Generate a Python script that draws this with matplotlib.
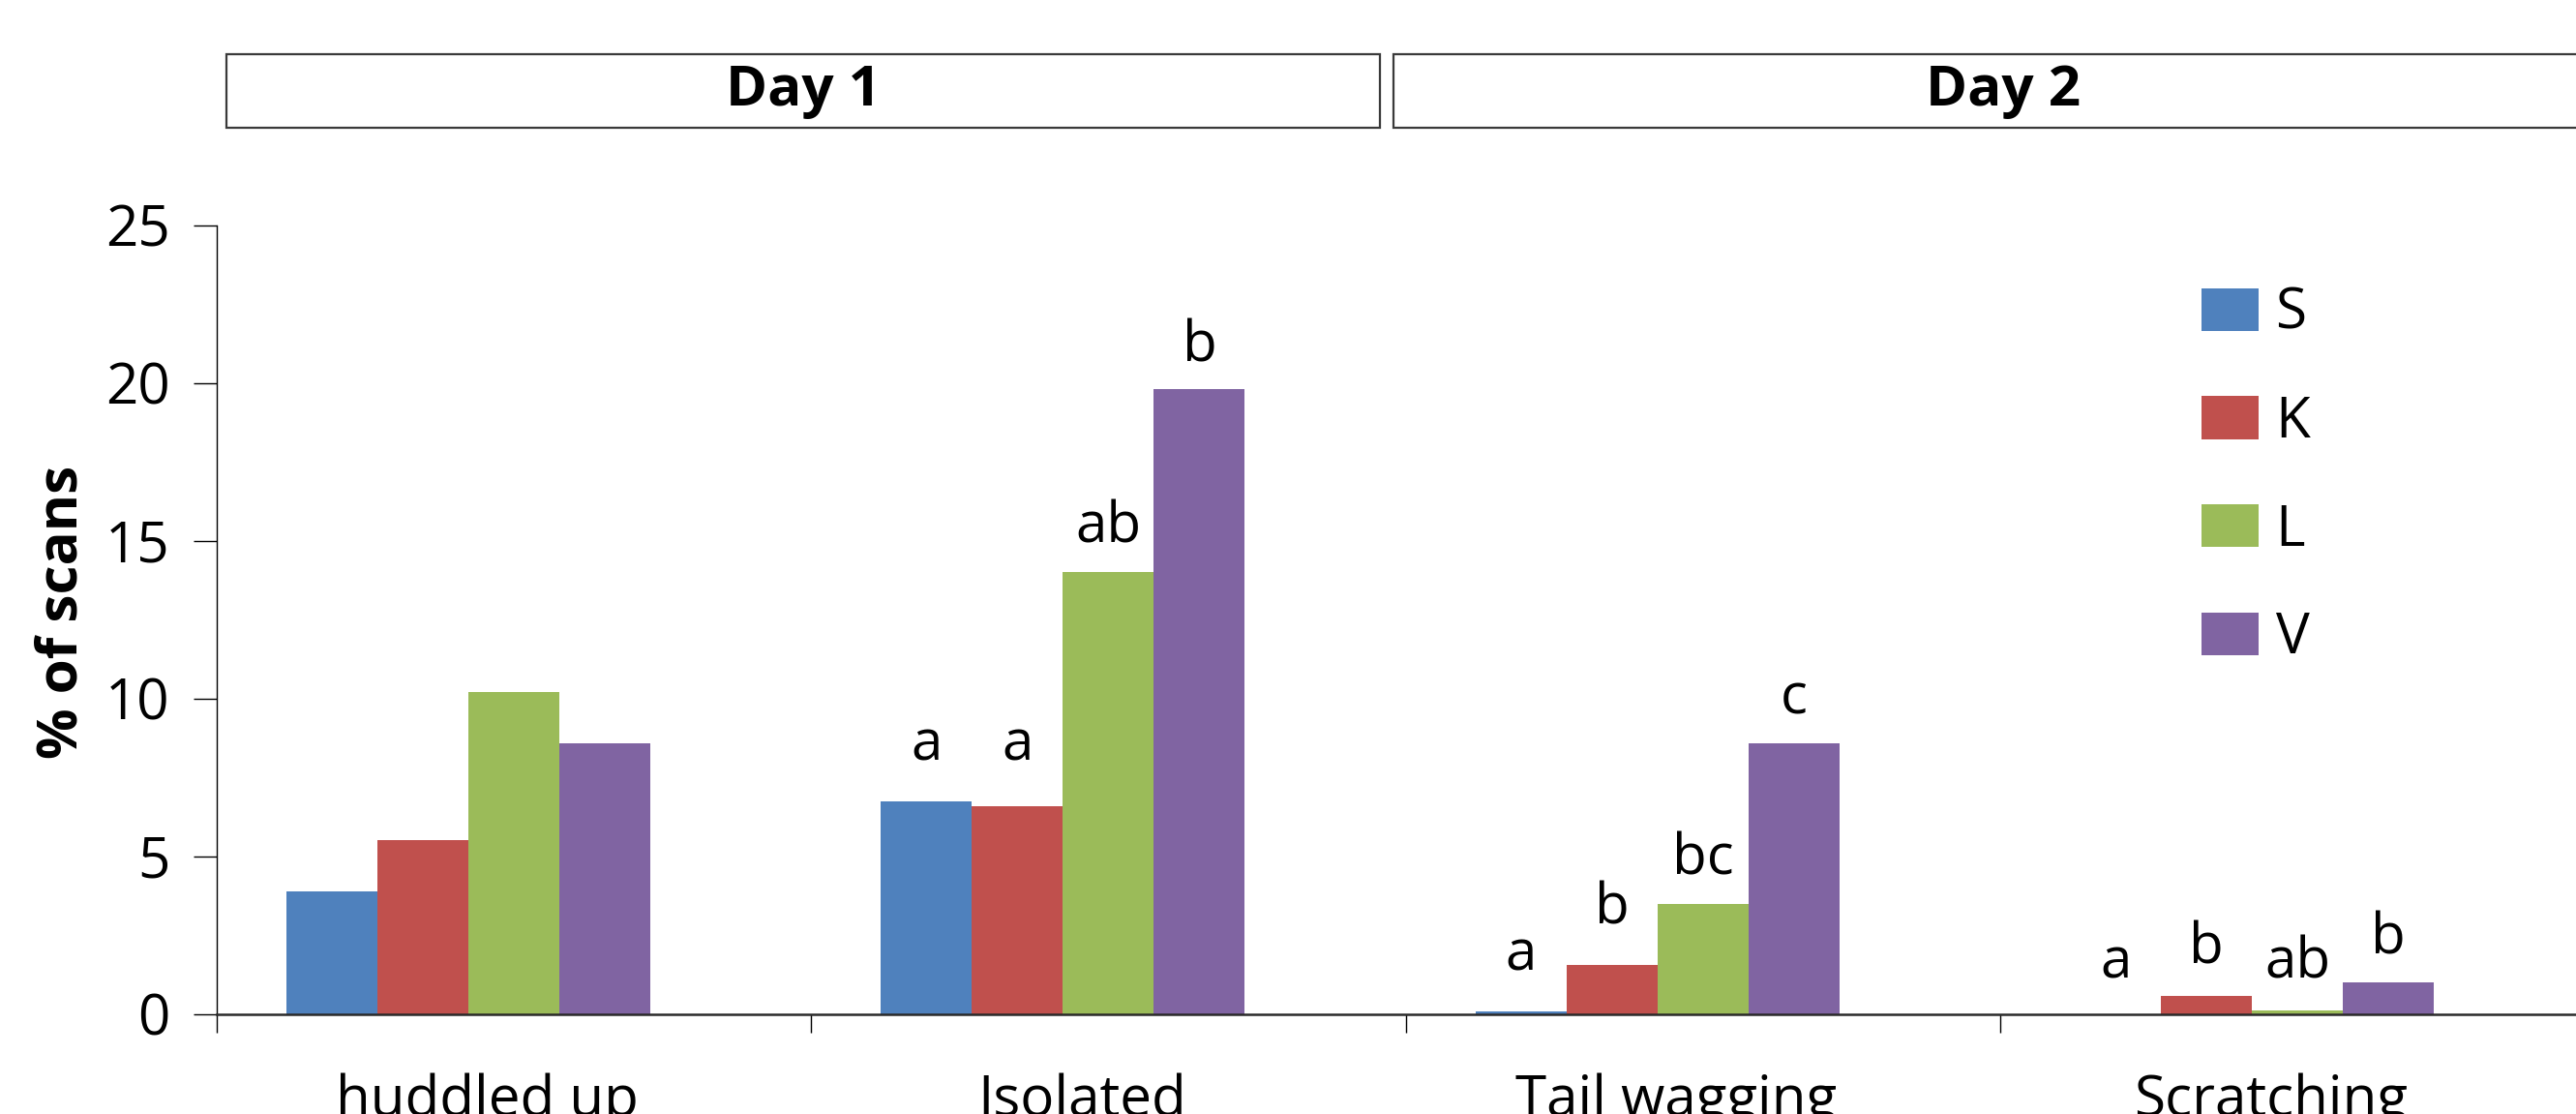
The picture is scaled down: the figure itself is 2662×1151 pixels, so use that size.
import matplotlib
matplotlib.use("Agg")
import matplotlib.pyplot as plt
import matplotlib.transforms as mtransforms
from matplotlib.patches import Rectangle, Patch
import numpy as np

plt.rcParams['font.family'] = ['Open Sans', 'DejaVu Sans']

# ---------------- data ----------------
categories = ["huddled up", "Isolated", "Tail wagging", "Scratching"]
series_names = ["S", "K", "L", "V"]
S_vals = [3.87, 6.72, 0.08, 0.0]
K_vals = [5.51, 6.58, 1.56, 0.58]
L_vals = [10.19, 14.0, 3.47, 0.10]
V_vals = [8.59, 19.8, 8.59, 1.0]
series_colors = ["#4F81BD", "#C0504D", "#9BBB59", "#8064A2"]

# significance letters per category (S, K, L, V)
letters = [
    ["", "", "", ""],
    ["a", "a", "ab", "b"],
    ["a", "b", "bc", "c"],
    ["a", "b", "ab", "b"],
]
# baseline height of the letters (data units)
letter_heights = [
    [0, 0, 0, 0],
    [8.03, 8.03, 14.93, 20.68],
    [1.37, 2.85, 4.41, 9.5],
    [1.14, 1.58, 1.14, 1.91],
]
panel_titles = ["Day 1", "Day 2"]
y_ticks = [0, 5, 10, 15, 20, 25]
y_label = "% of scans"

# ---------------- layout ----------------
W, H = 2662, 1151
DPI = 100
fig = plt.figure(figsize=(W / DPI, H / DPI), dpi=DPI)
fig.patch.set_facecolor("white")

ax_left, ax_bottom_px, ax_top_px = 224, 1047.5, 232.6
group_px = 614.3
ax_w_px = group_px * 4
ax = fig.add_axes([ax_left / W, (H - ax_bottom_px) / H, ax_w_px / W,
                   (ax_bottom_px - ax_top_px) / H])

values = [S_vals, K_vals, L_vals, V_vals]
n_slots = 5
bar_w = 0.153
x = np.arange(len(categories)) + 0.5
FS = 42

for k, (vals, name, col) in enumerate(zip(values, series_names, series_colors)):
    xpos = x + (k - (n_slots - 1) / 2) * bar_w
    ax.bar(xpos, vals, width=bar_w, color=col, label=name, linewidth=0)
    for i in range(len(categories)):
        if letters[i][k]:
            ax.text(xpos[i], letter_heights[i][k], letters[i][k], ha="center",
                    va="baseline", fontsize=FS, color="black")

ax.set_xlim(0, 4)
ax.set_ylim(0, 25)
ax.set_yticks(y_ticks)
ax.set_xticks([0, 1, 2, 3, 4])
ax.set_xticklabels([])
for s in ["top", "right"]:
    ax.spines[s].set_visible(False)
ax.spines["left"].set_linewidth(1.0)
ax.spines["left"].set_color("black")
ax.spines["bottom"].set_linewidth(1.8)
ax.spines["bottom"].set_color("#2a2a2a")
ax.tick_params(axis="y", direction="out", length=17, width=1.0, pad=18,
               labelsize=FS, colors="black")
ax.tick_params(axis="x", direction="out", length=14, width=1.0, colors="black")

# category labels near bottom edge (partially clipped, as in the reference)
trans = mtransforms.blended_transform_factory(ax.transData, fig.transFigure)
for xi, cat in zip(x, categories):
    ax.text(xi - 0.045, -2.0 / H, cat, transform=trans, ha="center",
            va="baseline", fontsize=FS, clip_on=False)

ax.set_ylabel(y_label, fontsize=FS, fontweight="bold", rotation=90,
              ha="center", va="center", rotation_mode="default")
ax.yaxis.set_label_coords((64.5 - ax_left) / ax_w_px,
                          (ax_bottom_px - 632) / (ax_bottom_px - ax_top_px))

# legend
fs_px = FS * DPI / 72
handles = [Patch(facecolor=c, edgecolor="none", label=n)
           for c, n in zip(series_colors, series_names)]
leg = ax.legend(handles=handles, loc="upper left", frameon=False,
                bbox_to_anchor=(2275 / W, 1 - 295.5 / H),
                bbox_transform=fig.transFigure, fontsize=FS,
                handlelength=59 / fs_px, handleheight=46 / fs_px,
                handletextpad=0.3, labelspacing=0.913, borderpad=0,
                borderaxespad=0)

# panel header boxes
box_specs = [(234, 1426), (1440, 2700)]
for (x0, x1), title in zip(box_specs, panel_titles):
    rect = Rectangle((x0 / W, 1 - 132 / H), (x1 - x0) / W, 76 / H,
                     transform=fig.transFigure, facecolor="white",
                     edgecolor="#3a3a3a", linewidth=1.6, clip_on=False)
    fig.patches.append(rect)
    fig.text((x0 + x1) / 2 / W, 1 - 94 / H, title, ha="center", va="center",
             fontsize=FS, fontweight="bold")

fig.savefig("out.png", dpi=DPI, facecolor="white")
